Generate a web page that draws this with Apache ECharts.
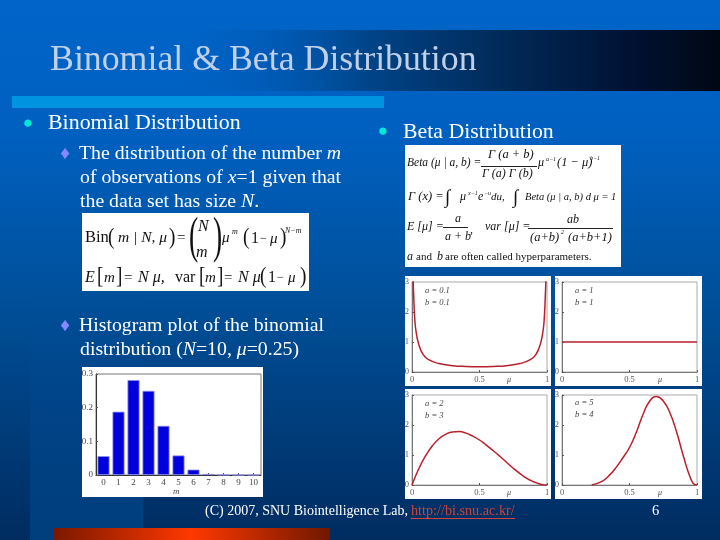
<!DOCTYPE html>
<html><head><meta charset="utf-8">
<style>html,body{margin:0;padding:0;background:#003366}#c{width:720px;height:540px}</style>
<script src="https://cdn.jsdelivr.net/npm/echarts@6/dist/echarts.min.js"></script>
</head><body><div id="c"></div>
<script>
const histCategories = ['0','1','2','3','4','5','6','7','8','9','10'];
const histValues = [0.056,0.188,0.282,0.25,0.146,0.058,0.016,0.003,0.0004,0,0];
const betaA = [[0.005,3.4],[0.012,2.6],[0.02,1.8],[0.03,1.35],[0.05,0.92],[0.08,0.6],[0.12,0.42],[0.2,0.28],[0.3,0.21],[0.4,0.185],[0.5,0.177],[0.6,0.185],[0.7,0.21],[0.8,0.28],[0.88,0.42],[0.92,0.6],[0.95,0.92],[0.97,1.35],[0.98,1.8],[0.988,2.6],[0.995,3.4]];
const betaB = [[0,1],[0.25,1],[0.5,1],[0.75,1],[1,1]];
const betaC = [[0,0],[0.05,0.54],[0.1,0.97],[0.15,1.3],[0.2,1.54],[0.25,1.69],[0.3,1.77],[0.35,1.78],[0.4,1.73],[0.45,1.63],[0.5,1.5],[0.55,1.33],[0.6,1.15],[0.65,0.96],[0.7,0.76],[0.75,0.56],[0.8,0.38],[0.85,0.22],[0.9,0.11],[0.96,0.02],[1,0]];
const betaD = [[0.22,0],[0.3,0.13],[0.35,0.32],[0.4,0.58],[0.45,0.9],[0.5,1.25],[0.55,1.75],[0.6,2.35],[0.65,2.8],[0.7,2.95],[0.75,2.8],[0.8,2.4],[0.85,1.75],[0.9,0.95],[0.95,0.25],[0.98,0.02],[1,0]];
const panelLabels = [['a = 0.1','b = 0.1'],['a = 1','b = 1'],['a = 2','b = 3'],['a = 5','b = 4']];
const xTickLabels = {0:'0',0.5:'0.5',1:'1'};

const SERIF = '"Liberation Serif","DejaVu Serif",serif';
const plots = [
  {l:412,r:547,t:282,b:372,d:betaA},
  {l:562,r:697,t:282,b:372,d:betaB},
  {l:412,r:547,t:395,b:485,d:betaC},
  {l:562,r:697,t:395,b:485,d:betaD}
];
const g = [];
function rect(x,y,w,h,fill,z){g.push({type:'rect',silent:true,z:z==null?-10:z,shape:{x,y,width:w,height:h},style:{fill}});}
function lin(x0,y0,x1,y1,stops){return new echarts.graphic.LinearGradient(x0,y0,x1,y1,stops.map(c=>({offset:c[0],color:c[1]})));}
function txt(s,x,y,size,o){o=o||{};const st={text:s,font:(o.style||'')+' '+size+'px '+SERIF,fill:o.fill||'#ffffff',textAlign:o.align||'left',textVerticalAlign:'middle'};
  if(o.shadow){st.shadowColor=o.shadow;st.shadowOffsetX=1.5;st.shadowOffsetY=1.5;st.shadowBlur=1;}
  const el={type:'text',silent:true,z:100,x,y,style:st};
  if(o.sx){el.scaleX=o.sx;}
  g.push(el);}
function flow(parts,x,y,size,fill){
  const rich={r:{font:size+'px '+SERIF,fill:fill||'#ffffff'},i:{font:'italic '+size+'px '+SERIF,fill:fill||'#ffffff'}};
  g.push({type:'text',silent:true,z:100,x,y,style:{text:parts.map(p=>'{'+(p[1]?'i':'r')+'|'+p[0]+'}').join(''),rich,textVerticalAlign:'middle',textAlign:'left'}});
}

// background
rect(0,0,720,540,lin(0,0,0,1,[[0,'#0064c8'],[0.25,'#0060c0'],[0.55,'#00509a'],[1,'#002c60']]));
rect(30,280,113,260,lin(0,0,0,1,[[0,'rgba(0,80,160,0)'],[1,'#003f7e']]));
rect(180,30,540,61,lin(0,0,1,0,[[0,'rgba(0,96,192,0)'],[0.35,'#004488'],[0.6,'#002a58'],[0.85,'#001030'],[1,'#000814']]));
rect(12,96,372,12,'#0094e0');
rect(53,528,277,12,lin(0,0,1,0,[[0,'#7a1800'],[0.5,'#ff3800'],[1,'#701800']]));

// white boxes
rect(82,213,227,78,'#ffffff',-5);
rect(405,145,216,122,'#ffffff',-5);
rect(82,367,181,130,'#ffffff',-5);
rect(405,276,146,110,'#ffffff',-5);
rect(555,276,147,110,'#ffffff',-5);
rect(405,389,146,110,'#ffffff',-5);
rect(555,389,147,110,'#ffffff',-5);

// slide text
txt('Binomial & Beta Distribution',50,61,35.8,{fill:'#c0d0e8',shadow:'#002050'});
txt('●',28,124,17,{fill:'#00e8d8',align:'center'});
txt('Binomial Distribution',48,123,21.9);
txt('●',383,132,17,{fill:'#00e8d8',align:'center'});
txt('Beta Distribution',403,132,21.8);
txt('♦',65,154,19,{fill:'#8888ff',align:'center'});
flow([['The distribution of the number '],['m',1]],79,154,19.8);
flow([['of observations of '],['x',1],['=1 given that']],80,178,19.8);
flow([['the data set has size '],['N',1],['.']],80,202,19.8);
txt('♦',65,326,19,{fill:'#8888ff',align:'center'});
flow([['Histogram plot of the binomial']],79,326,19.8);
flow([['distribution ('],['N',1],['=10, '],['μ',1],['=0.25)']],80,350,19.8);

// binomial formula
const K='#111111';
const f=(s,x,y,sz,it,sx)=>txt(s,x,y,sz,{fill:K,style:it===false?'':'italic',sx});
f('Bin',85,238,16.5,false);
f('(',108,238,24,false,0.8);
f('m | N, μ',118,238,15.5);
f(')',169,238,24,false,0.8);
f('=',177,238,15,false);
f('(',189,239,50,false,0.55);
f('N',198,227,16);
f('m',196,253,16);
f(')',213,239,50,false,0.55);
f('μ',222,238,15);
f('m',232,232,8);
f('(',243,238,24,false,0.8);
f('1',251,239,16,false);
f('−',260,239,12,false);
f('μ',270,239,15);
f(')',280,238,24,false,0.8);
f('N−m',285,231,8);
f('E',85,278,16);
f('[',97,277,24,false,0.8);
f('m',104,278,15);
f(']',116,277,24,false,0.8);
f('=',124,278,15,false);
f('N μ,',138,278,16);
f('var',175,278,16,false);
f('[',199,277,24,false,0.8);
f('m',205,278,15);
f(']',217,277,24,false,0.8);
f('=',224,278,15,false);
f('N μ',238,278,16);
f('(',260,277,24,false,0.8);
f('1',268,278,16,false);
f('−',277,278,12,false);
f('μ',288,278,15);
f(')',300,277,24,false,0.8);

// beta formula
f('Beta (μ | a, b) =',407,163,11.5);
f('Γ (a + b)',488,155,12.5);
rect(481,166,56,1,'#222222',50);
f('Γ (a) Γ (b)',482,174,12);
f('μ',538,163,12);
f('a−1',546,159,6);
f('(1 − μ)',557,163,12.5);
f('b−1',590,158,6);
f('Γ (x) =',408,197,12.5);
f('∫',445,198,19);
f('μ',460,197,12);
f('x−1',468,193,6);
f('e',478,197,12);
f('−u',484,193,6);
f('du,',491,197,11);
f('∫',513,198,19);
f('Beta (μ | a, b) d μ = 1',525,197,10.5);
f('E [μ] =',407,227,12);
f('a',455,219,12);
rect(443,227,25,1,'#222222',50);
f('a + b',445,237,12);
f(',',470,230,12);
f('var [μ] =',485,227,12);
f('ab',567,220,12);
rect(528,228,85,1,'#222222',50);
f('(a+b)',530,238,12.5);
f('2',561,232,6);
f('(a+b+1)',568,238,12.5);
f('a',407,257,12);
f('and',416,257,11,false);
f('b',437,257,12);
f('are often called hyperparameters.',445,257,11,false);

// footer
txt('(C) 2007, SNU Biointelligence Lab, ',205,511,14);
txt('http://bi.snu.ac.kr/',411,511,14.2,{fill:'#c8463a'});
rect(411,518,104,1,'#c8463a',50);
txt('6',652,511,14.5);

// hist axis name and panel annotations
txt('m',173,492,9,{fill:'#444',style:'italic'});
const ant=[[425,291,425,303],[575,291,575,303],[425,404,425,416],[575,403,575,415]];
panelLabels.forEach((p,i)=>{
  txt(p[0],ant[i][0],ant[i][1],8.5,{fill:'#444',style:'italic'});
  txt(p[1],ant[i][2],ant[i][3],8.5,{fill:'#444',style:'italic'});
});
[[507,380],[658,380],[507,493],[658,493]].forEach(a=>txt('μ',a[0],a[1],8,{fill:'#444',style:'italic'}));

const grids=[{left:96,top:374,width:165,height:101,show:true,borderColor:'#777',borderWidth:1,backgroundColor:'transparent'}];
const xAxes=[{type:'category',gridIndex:0,data:histCategories,boundaryGap:true,
  axisLine:{onZero:false,lineStyle:{color:'#333'}},axisTick:{show:true,alignWithLabel:true,inside:true,length:2,lineStyle:{color:'#555'}},
  axisLabel:{show:true,interval:0,color:'#444',fontFamily:SERIF,fontSize:9,margin:3},splitLine:{show:false}}];
const yAxes=[{type:'value',gridIndex:0,min:0,max:0.3,interval:0.1,
  axisLine:{show:true,lineStyle:{color:'#333'}},axisTick:{show:true,inside:true,length:2,lineStyle:{color:'#555'}},
  axisLabel:{color:'#444',fontFamily:SERIF,fontSize:9,margin:3,formatter:v=>v===0?'0':v.toFixed(1)},splitLine:{show:false}}];
const series=[{type:'bar',xAxisIndex:0,yAxisIndex:0,data:histValues,barWidth:12,itemStyle:{color:'#0000dc',borderColor:'#8a8af0',borderWidth:0.8},silent:true,animation:false}];
plots.forEach((p,i)=>{
  const k=i+1;
  grids.push({left:p.l,top:p.t,width:p.r-p.l,height:p.b-p.t,show:true,borderColor:'#aaa',borderWidth:1,backgroundColor:'transparent'});
  xAxes.push({type:'value',gridIndex:k,min:0,max:1,interval:0.5,
    axisLine:{onZero:false,lineStyle:{color:'#777'}},axisTick:{show:true,inside:true,length:2,lineStyle:{color:'#555'}},
    axisLabel:{color:'#555',fontFamily:SERIF,fontSize:8.5,margin:3,formatter:v=>xTickLabels[v]},splitLine:{show:false}});
  yAxes.push({type:'value',gridIndex:k,min:0,max:3,interval:1,
    axisLine:{show:true,lineStyle:{color:'#777'}},axisTick:{show:true,inside:true,length:2,lineStyle:{color:'#555'}},
    axisLabel:{color:'#555',fontFamily:SERIF,fontSize:8.5,margin:3},splitLine:{show:false}});
  series.push({type:'line',xAxisIndex:k,yAxisIndex:k,data:p.d,smooth:0.5,showSymbol:false,clip:true,silent:true,animation:false,
    lineStyle:{color:'#b8202c',width:1.5}});
});

const chart=echarts.init(document.getElementById('c'),null,{renderer:'canvas'});
chart.setOption({animation:false,backgroundColor:'#003366',tooltip:{show:false},graphic:{elements:g},grid:grids,xAxis:xAxes,yAxis:yAxes,series});
</script></body></html>
